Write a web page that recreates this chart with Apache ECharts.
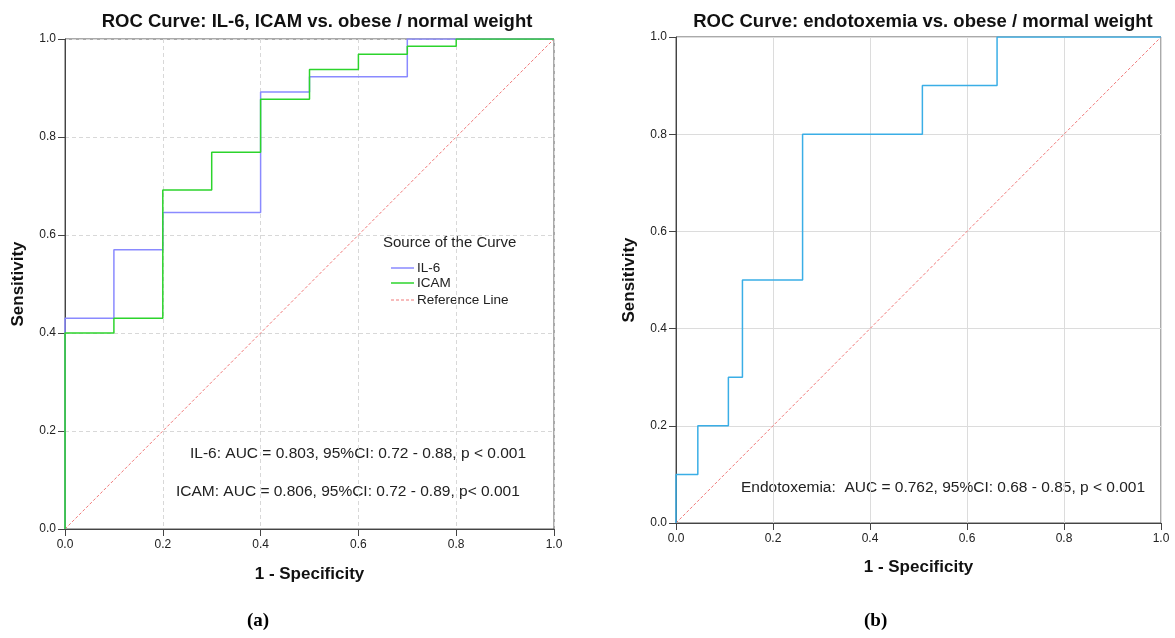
<!DOCTYPE html>
<html><head><meta charset="utf-8">
<script src="https://cdn.jsdelivr.net/npm/echarts@6/dist/echarts.min.js"></script>
<style>html,body{margin:0;padding:0;background:#fff}#c{width:1175px;height:638px}</style>
</head><body><div id="c"></div>
<script>
// Panel (a): IL-6 and ICAM ROC operating points
const il6Fpr  = [0, 0, 0.1, 0.2, 0.4, 0.5, 0.7, 1.0];
const il6Tpr  = [0, 0.43, 0.57, 0.646, 0.892, 0.923, 1.0, 1.0];
const icamFpr = [0, 0, 0.1, 0.2, 0.3, 0.4, 0.5, 0.6, 0.7, 0.8, 1.0];
const icamTpr = [0, 0.40, 0.43, 0.692, 0.769, 0.877, 0.938, 0.969, 0.985, 1.0, 1.0];
// Panel (b): endotoxemia ROC operating points
const endoFpr = [0, 0, 0.045, 0.108, 0.137, 0.261, 0.508, 0.662, 1.0];
const endoTpr = [0, 0.10, 0.20, 0.30, 0.50, 0.80, 0.90, 1.0, 1.0];
const refLine = [[0, 0], [1, 1]];

const titles = ['ROC Curve: IL-6, ICAM vs. obese / normal weight', 'ROC Curve: endotoxemia vs. obese / mormal weight'];
const notesA = ['IL-6: AUC = 0.803, 95%CI: 0.72 - 0.88, p < 0.001', 'ICAM: AUC = 0.806, 95%CI: 0.72 - 0.89, p< 0.001'];
const noteB = 'Endotoxemia:  AUC = 0.762, 95%CI: 0.68 - 0.85, p < 0.001';
const legendTitle = 'Source of the Curve';
const legendNames = ['IL-6', 'ICAM', 'Reference Line'];

const C_IL6 = '#8a8aff', C_ICAM = '#2cd42c', C_ENDO = '#3aaee6', C_REF = '#f07878';

const zip = (a, b) => a.map((v, i) => [v, b[i]]);
const F = 'Arial, "Liberation Sans", sans-serif';

function axis(gi, dashed, name, gap, isX) {
  return {
    gridIndex: gi, type: 'value', min: 0, max: 1, interval: 0.2,
    name: name, nameLocation: 'middle', nameGap: gap,
    nameTextStyle: { fontFamily: F, fontWeight: 'bold', fontSize: 17, color: '#111' },
    axisLine: { show: true, onZero: false, lineStyle: { color: '#444' } },
    axisTick: { show: true, length: 7, lineStyle: { color: '#444' } },
    axisLabel: { fontFamily: F, fontSize: 12, color: '#222', margin: isX ? 10 : 9, formatter: v => v.toFixed(1) },
    splitLine: { show: true, lineStyle: { color: dashed ? '#d8d8d8' : '#dcdcdc', type: dashed ? [4, 3] : 'solid' } }
  };
}

const chart = echarts.init(document.getElementById('c'), null, { renderer: 'canvas' });
chart.setOption({
  animation: false,
  backgroundColor: '#fff',
  title: [
    { text: titles[0], left: 312, top: 7, textAlign: 'center', textStyle: { fontFamily: F, fontWeight: 'bold', fontSize: 18.5, color: '#111' } },
    { text: titles[1], left: 918, top: 7, textAlign: 'center', textStyle: { fontFamily: F, fontWeight: 'bold', fontSize: 18.5, color: '#111' } }
  ],
  grid: [
    { left: 65, top: 39, width: 489, height: 490, show: true, borderColor: '#555', borderWidth: 1, backgroundColor: 'transparent' },
    { left: 676, top: 37, width: 485, height: 486, show: true, borderColor: '#555', borderWidth: 1, backgroundColor: 'transparent' }
  ],
  xAxis: [axis(0, true, '1 - Specificity', 37, true), axis(1, false, '1 - Specificity', 36, true)],
  yAxis: [axis(0, true, 'Sensitivity', 38, false), axis(1, false, 'Sensitivity', 38, false)],
  series: [
    { name: 'Reference Line', type: 'line', xAxisIndex: 0, yAxisIndex: 0, data: refLine, symbol: 'none',
      lineStyle: { color: C_REF, width: 1, type: [3, 2] } },
    { name: 'IL-6', type: 'line', xAxisIndex: 0, yAxisIndex: 0, data: zip(il6Fpr, il6Tpr), step: 'end', symbol: 'none',
      lineStyle: { color: C_IL6, width: 1.5 } },
    { name: 'ICAM', type: 'line', xAxisIndex: 0, yAxisIndex: 0, data: zip(icamFpr, icamTpr), step: 'end', symbol: 'none',
      lineStyle: { color: C_ICAM, width: 1.5 } },
    { name: 'Ref B', type: 'line', xAxisIndex: 1, yAxisIndex: 1, data: refLine, symbol: 'none',
      lineStyle: { color: C_REF, width: 1, type: [3, 2] } },
    { name: 'Endotoxemia', type: 'line', xAxisIndex: 1, yAxisIndex: 1, data: zip(endoFpr, endoTpr), step: 'end', symbol: 'none',
      lineStyle: { color: C_ENDO, width: 1.5 } }
  ],
  graphic: [
    { type: 'text', left: 383, top: 235, style: { text: legendTitle, font: '15px ' + F, fill: '#222' } },
    { type: 'line', shape: { x1: 391, y1: 268, x2: 414, y2: 268 }, style: { stroke: C_IL6, lineWidth: 1.5 } },
    { type: 'line', shape: { x1: 391, y1: 283, x2: 414, y2: 283 }, style: { stroke: C_ICAM, lineWidth: 1.5 } },
    { type: 'line', shape: { x1: 391, y1: 300, x2: 414, y2: 300 }, style: { stroke: C_REF, lineWidth: 1, lineDash: [3, 2] } },
    { type: 'text', left: 417, top: 261, style: { text: legendNames[0], font: '13.5px ' + F, fill: '#222' } },
    { type: 'text', left: 417, top: 276, style: { text: legendNames[1], font: '13.5px ' + F, fill: '#222' } },
    { type: 'text', left: 417, top: 293, style: { text: legendNames[2], font: '13.5px ' + F, fill: '#222' } },
    { type: 'text', left: 190, top: 446, style: { text: notesA[0], font: '15.5px ' + F, fill: '#222' } },
    { type: 'text', left: 176, top: 484, style: { text: notesA[1], font: '15.5px ' + F, fill: '#222' } },
    { type: 'text', left: 741, top: 480, style: { text: noteB, font: '15.5px ' + F, fill: '#222' } },
    { type: 'text', left: 247, top: 612, style: { text: '(a)', font: 'bold 19px "Liberation Serif", "Times New Roman", serif', fill: '#000' } },
    { type: 'text', left: 864, top: 612, style: { text: '(b)', font: 'bold 19px "Liberation Serif", "Times New Roman", serif', fill: '#000' } }
  ]
});
</script></body></html>
